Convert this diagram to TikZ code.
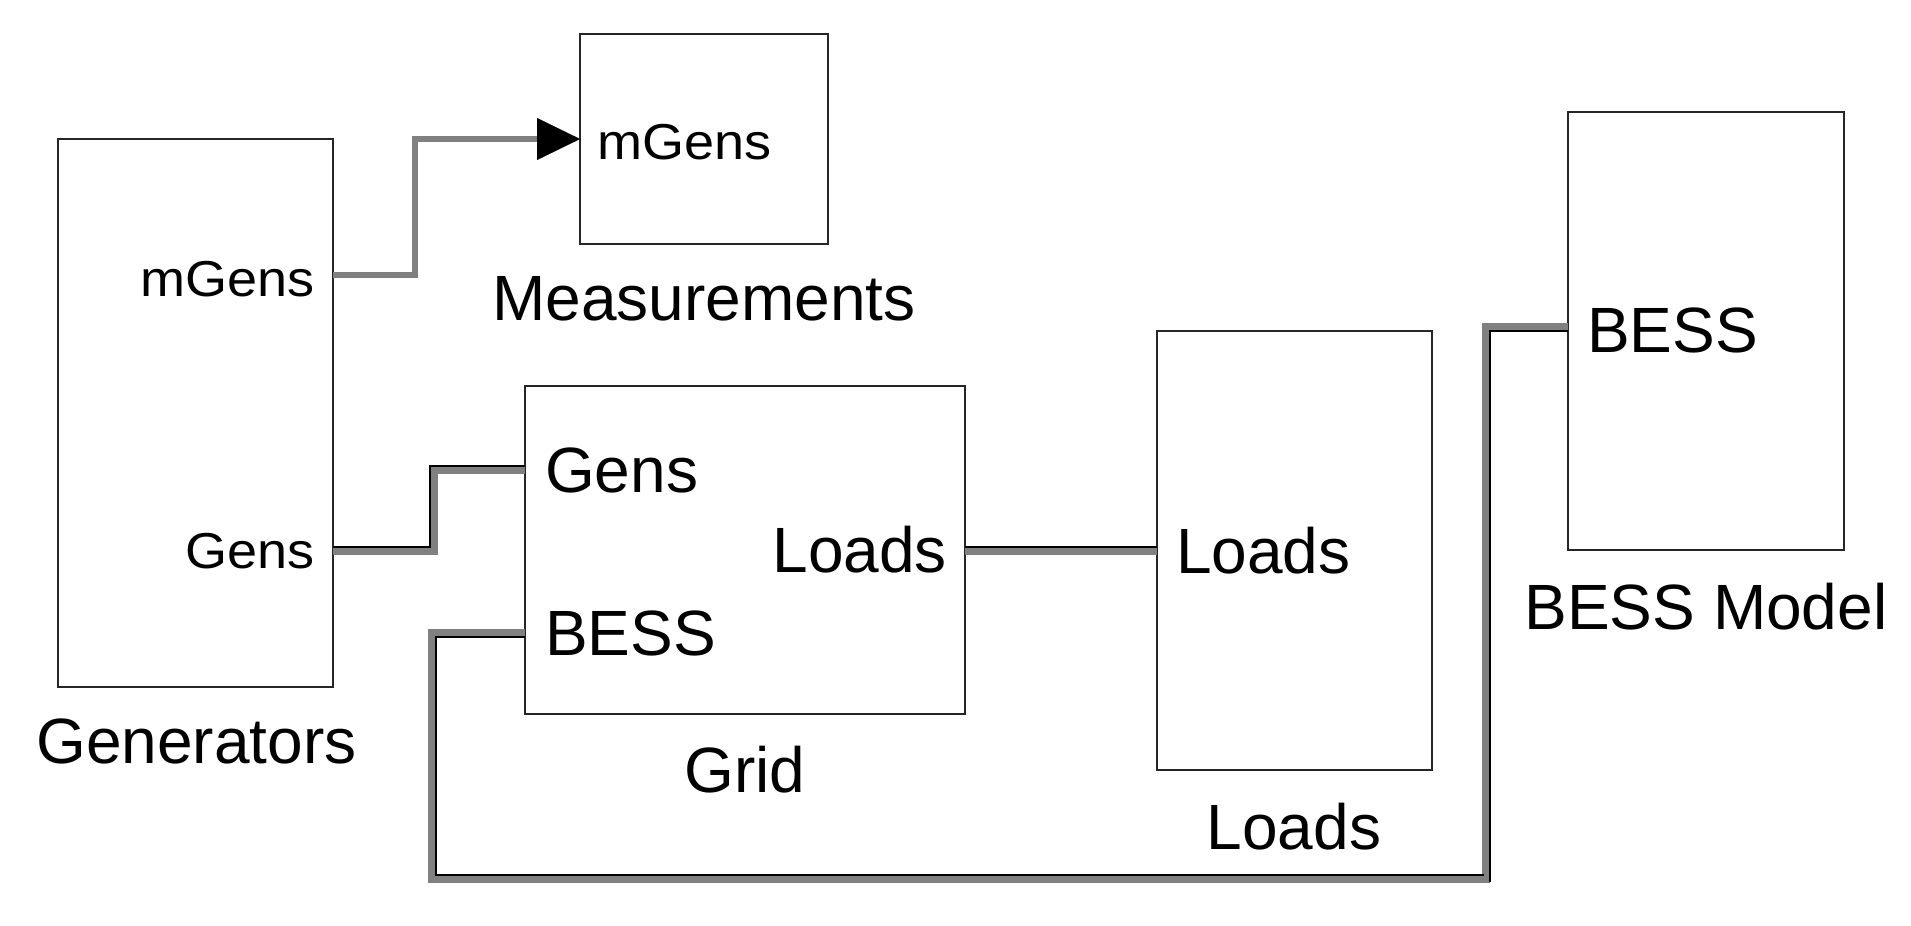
\documentclass[tikz,border=0pt]{standalone}
\usepackage{fontspec}
\setmainfont{Liberation Sans}
\newfontfamily\portfont[FakeStretch=1.07]{Liberation Sans}
\usetikzlibrary{arrows.meta}
\begin{document}
\begin{tikzpicture}[x=1pt,y=-1pt,
  blk/.style={draw=black!85, line width=2.8pt, inner sep=0pt, outer sep=0pt, anchor=north west},
  big/.style={inner sep=0pt, font=\fontsize{64}{70}\selectfont},
  small/.style={inner sep=0pt, font=\portfont\fontsize{50.5}{55}\selectfont},
  sig/.style={draw=black!50, line width=6.5pt, -{Triangle[length=43pt,width=42pt,line width=0.1pt,color=black]}},
  pgray/.style={draw=black!50, line width=8.5pt},
  pblack/.style={draw=black, line width=2.5pt}]
\fill[white] (0,0) rectangle (1911,926);
\useasboundingbox (0,0) rectangle (1911,926);

% blocks
\node[blk, minimum width=275pt, minimum height=548pt] (gen) at (58,139) {};
\node[blk, minimum width=248pt, minimum height=210pt] (meas) at (580,34) {};
\node[blk, minimum width=440pt, minimum height=328pt] (grid) at (525,386) {};
\node[blk, minimum width=275pt, minimum height=439pt] (load) at (1157,331) {};
\node[blk, minimum width=276pt, minimum height=438pt] (bess) at (1568,112) {};

% ports
\coordinate (pGenM) at (gen.east |- 0,275);
\coordinate (pGenG) at (gen.east |- 0,551);
\coordinate (pMeas) at (meas.west |- 0,139);
\coordinate (pGridG) at (grid.west |- 0,470);
\coordinate (pGridL) at (grid.east |- 0,551);
\coordinate (pGridB) at (grid.west |- 0,633);
\coordinate (pLoadL) at (load.west |- 0,551);
\coordinate (pModB) at (bess.west |- 0,327);

% texts
\node[small, anchor=base east] (tGenM) at (315,296) {mGens};
\node[small, anchor=base east] (tGenG) at (315,568) {Gens};
\node[small, anchor=base west] (tMeasM) at (597,159) {mGens};
\node[big, anchor=base] (lMeas) at (704,320) {Measurements};
\node[big, anchor=base] (lGen) at (196.5,763) {Generators};
\node[big, anchor=base west] (tGridG) at (545,492) {Gens};
\node[big, anchor=base east] (tGridL) at (947,572) {Loads};
\node[big, anchor=base west] (tGridB) at (545,655) {BESS};
\node[big, anchor=base] (lGrid) at (745,792) {Grid};
\node[big, anchor=base west] (tLoadL) at (1176,573) {Loads};
\node[big, anchor=base] (lLoad) at (1294,849) {Loads};
\node[big, anchor=base west] (tModB) at (1587,352) {BESS};
\node[big, anchor=base] (lMod) at (1706,629) {BESS Model};

% signal connector
\draw[sig] (pGenM) -| (415,139) -- (pMeas);

% physical connectors
\draw[pgray] (pGenG) -| (434,470) -- (pGridG);
\draw[pblack] ([shift={(0,-4)}]pGenG) -| (430,466) -- ([shift={(0,-4)}]pGridG);

\draw[pgray] (pGridL) -- (pLoadL);
\draw[pblack] ([shift={(0,-4)}]pGridL) -- ([shift={(0,-4)}]pLoadL);

\draw[pgray] (pGridB) -| (432,879) -| (1486,327) -- (pModB);
\draw[pblack] ([shift={(0,4)}]pGridB) -| (436,875) -- (1484,875);
\draw[pblack] (1490,882) -- (1490,331) -- ([shift={(0,4)}]pModB);
\end{tikzpicture}
\end{document}
